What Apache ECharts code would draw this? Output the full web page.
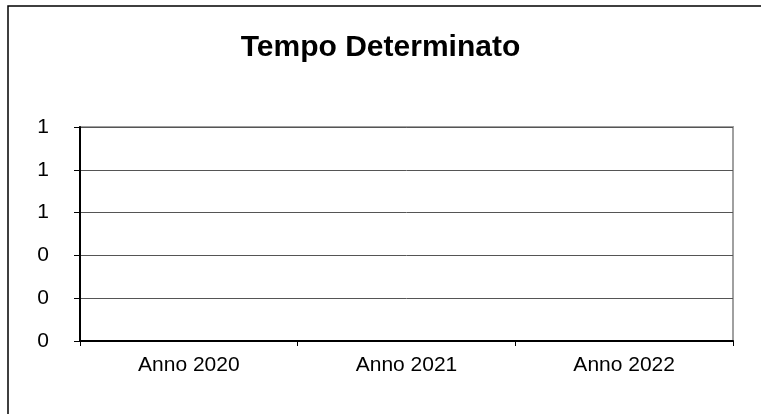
<!DOCTYPE html>
<html>
<head>
<meta charset="utf-8">
<script src="https://cdn.jsdelivr.net/npm/echarts@6/dist/echarts.min.js"></script>
<style>
  html, body { margin: 0; padding: 0; background: #fff; }
  #chart { width: 761px; height: 414px; }
</style>
</head>
<body>
<div id="chart"></div>
<script>
// dati del grafico
var categories = ['Anno 2020', 'Anno 2021', 'Anno 2022']
var values = [0, 0, 0]
var titolo = 'Tempo Determinato'

var myChart = echarts.init(document.getElementById('chart'))

var option = {
  backgroundColor: '#fff',
  animation: false,
  title: {
    text: titolo,
    left: 'center',
    top: 28,
    textStyle: { fontFamily: 'Liberation Sans', fontSize: 30, fontWeight: 'bold', color: '#000' }
  },
  graphic: [
    {
      type: 'rect',
      shape: { x: 8, y: 6, width: 800, height: 500 },
      style: { fill: 'none', stroke: '#000', lineWidth: 1.5 },
      silent: true
    }
  ],
  grid: {
    left: 80,
    right: 28,
    top: 127,
    bottom: 73,
    show: true,
    borderColor: '#a0a0a0',
    borderWidth: 2
  },
  xAxis: {
    type: 'category',
    data: categories,
    boundaryGap: true,
    axisLine: { lineStyle: { color: '#000', width: 2 } },
    axisTick: { show: true, length: 5, lineStyle: { color: '#000' } },
    axisLabel: { fontFamily: 'Liberation Sans', fontSize: 21, color: '#000', margin: 14 },
    splitLine: { show: false }
  },
  yAxis: {
    type: 'value',
    min: 0,
    max: 1,
    interval: 0.2,
    axisLine: { show: true, lineStyle: { color: '#000', width: 2 } },
    axisTick: { show: true, length: 6, lineStyle: { color: '#000' } },
    axisLabel: {
      fontFamily: 'Liberation Sans',
      fontSize: 21,
      color: '#000',
      margin: 31,
      formatter: function (val) {
        return Math.round(val)
      }
    },
    splitLine: { show: true, lineStyle: { color: '#555', width: 1 } }
  },
  series: [
    {
      type: 'bar',
      data: values,
      itemStyle: { color: '#9999ff' }
    }
  ]
}

myChart.setOption(option)
</script>
</body>
</html>
